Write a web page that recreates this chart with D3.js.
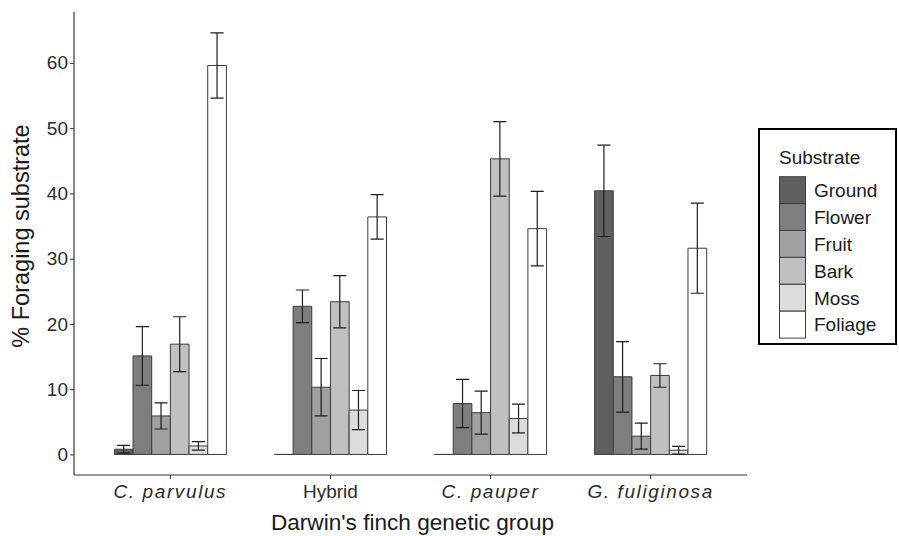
<!DOCTYPE html>
<html>
<head>
<meta charset="utf-8">
<script src="https://cdn.jsdelivr.net/npm/d3@7/dist/d3.min.js"></script>
<style>
  html, body { margin: 0; padding: 0; background: #fff; }
  svg { display: block; }
  text { font-family: "Liberation Sans", Arial, Helvetica, sans-serif; }
</style>
</head>
<body>
<svg id="chart" width="899" height="536"></svg>
<script>
// ---- Data ----
const groups = ["C. parvulus", "Hybrid", "C. pauper", "G. fuliginosa"];
const italicGroups = ["C. parvulus", "C. pauper", "G. fuliginosa"];
const substrates = ["Ground", "Flower", "Fruit", "Bark", "Moss", "Foliage"];
const fills = ["#5f5f5f", "#7e7e80", "#a0a0a2", "#bfc0c2", "#dcdcdd", "#ffffff"];

// mean % per group, ordered as substrates
const meanParvulus   = [0.8, 15.1, 5.9, 16.9, 1.3, 59.6];
const meanHybrid     = [0.0, 22.7, 10.3, 23.4, 6.8, 36.4];
const meanPauper     = [0.0, 7.8, 6.4, 45.3, 5.5, 34.6];
const meanFuliginosa = [40.4, 11.9, 2.8, 12.1, 0.65, 31.6];

// standard error per group
const seParvulus   = [0.6, 4.5, 2.0, 4.2, 0.65, 5.0];
const seHybrid     = [0.0, 2.5, 4.4, 4.0, 3.0, 3.4];
const sePauper     = [0.0, 3.7, 3.3, 5.7, 2.2, 5.7];
const seFuliginosa = [7.0, 5.4, 2.0, 1.8, 0.6, 6.9];

const yTicks = [0, 10, 20, 30, 40, 50, 60];

const means = [meanParvulus, meanHybrid, meanPauper, meanFuliginosa];
const ses = [seParvulus, seHybrid, sePauper, seFuliginosa];

const rows = [];
groups.forEach((g, gi) => {
  substrates.forEach((s, si) => {
    rows.push({ group: g, substrate: s, mean: means[gi][si], se: ses[gi][si] });
  });
});

// ---- Layout ----
const svg = d3.select("#chart");
const pLeft = 74, pRight = 747, pTop = 12, pBottom = 475;

const x = d3.scaleBand().domain(groups).range([pLeft, pRight]).paddingInner(0).paddingOuter(0.102);
const step = x.step();
const xSub = d3.scaleBand().domain(substrates).range([-0.35 * step, 0.35 * step]).padding(0);
const color = d3.scaleOrdinal().domain(substrates).range(fills);
const y = d3.scaleLinear().domain([-3.15, 67.8]).range([pBottom, pTop]);

// ---- Bars ----
const bw = xSub.bandwidth();
svg.append("g").selectAll("path.bar").data(rows).join("path")
  .attr("class", "bar")
  .attr("d", d => {
    const x0 = x(d.group) + x.bandwidth() / 2 + xSub(d.substrate);
    const y0 = y(0), y1 = y(d.mean);
    return `M${x0},${y0}H${x0 + bw}V${y1}H${x0}Z`;
  })
  .attr("fill", d => color(d.substrate))
  .attr("stroke", "#3c3c3c")
  .attr("stroke-width", 1);

// ---- Error bars ----
const cap = bw * 0.7;
const eb = svg.append("g").attr("stroke", "#1e1e1e").attr("stroke-width", 1.2).attr("fill", "none");
rows.filter(d => d.se > 0).forEach(d => {
  const cx = x(d.group) + x.bandwidth() / 2 + xSub(d.substrate) + bw / 2;
  const yl = y(d.mean - d.se), yh = y(d.mean + d.se);
  eb.append("path").attr("d",
    `M${cx},${yl}V${yh}M${cx - cap / 2},${yh}H${cx + cap / 2}M${cx - cap / 2},${yl}H${cx + cap / 2}`);
});

// ---- Axes ----
const yAxis = svg.append("g").attr("transform", `translate(${pLeft},0)`)
  .call(d3.axisLeft(y).tickValues(yTicks).tickSize(4).tickPadding(2));
yAxis.select(".domain").attr("d", `M0,${pTop}V${pBottom}`).attr("stroke", "#222").attr("stroke-width", 1.1);
yAxis.selectAll(".tick line").attr("stroke", "#333");
yAxis.selectAll(".tick text").attr("fill", "#2b2b2b").style("font-size", "19px");

const xAxis = svg.append("g").attr("transform", `translate(0,${pBottom})`)
  .call(d3.axisBottom(x).tickSize(4).tickPadding(6));
xAxis.select(".domain").attr("d", `M${pLeft},0H${pRight}`).attr("stroke", "#333").attr("stroke-width", 1.1);
xAxis.selectAll(".tick line").attr("stroke", "#333");
xAxis.selectAll(".tick text").attr("fill", "#2b2b2b").style("font-size", "19px")
  .style("font-style", d => italicGroups.includes(d) ? "italic" : "normal")
  .style("letter-spacing", d => italicGroups.includes(d) ? "1.6px" : "0px");

// ---- Axis titles ----
svg.append("text")
  .attr("transform", `translate(29,236) rotate(-90)`)
  .attr("text-anchor", "middle")
  .attr("fill", "#1a1a1a")
  .style("font-size", "23.5px")
  .text("% Foraging substrate");

svg.append("text")
  .attr("x", (pLeft + pRight) / 2 + 2)
  .attr("y", 530)
  .attr("text-anchor", "middle")
  .attr("fill", "#1a1a1a")
  .style("font-size", "22.6px")
  .text("Darwin's finch genetic group");

// ---- Legend ----
const lg = svg.append("g");
lg.append("rect").attr("x", 759).attr("y", 129).attr("width", 137).attr("height", 215)
  .attr("fill", "#fff").attr("stroke", "#000").attr("stroke-width", 2);
lg.append("text").attr("x", 779).attr("y", 164).attr("fill", "#1a1a1a")
  .style("font-size", "19px").text("Substrate");
const keyH = 26.9;
substrates.forEach((s, i) => {
  const ky = 176.7 + i * keyH;
  lg.append("rect").attr("x", 779.5).attr("y", ky).attr("width", 26).attr("height", keyH)
    .attr("fill", color(s)).attr("stroke", "#3c3c3c").attr("stroke-width", 1);
  lg.append("text").attr("x", 814).attr("y", ky + keyH / 2).attr("dy", "0.36em")
    .attr("fill", "#1a1a1a").style("font-size", "19px").text(s);
});
</script>
</body>
</html>
